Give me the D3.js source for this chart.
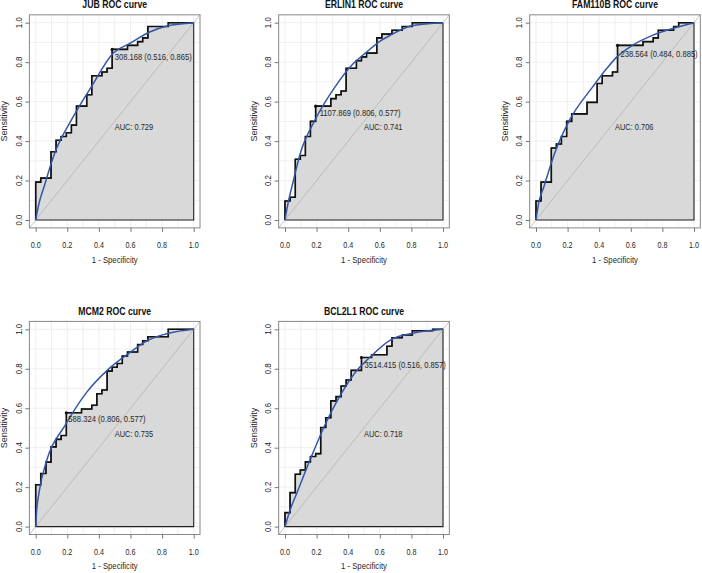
<!DOCTYPE html>
<html>
<head>
<meta charset="utf-8">
<script src="https://cdn.jsdelivr.net/npm/d3@7"></script>
<style>
  html, body { margin: 0; padding: 0; background: #fff; }
  svg { display: block; }
  text { font-family: "Liberation Sans", Arial, sans-serif; }
</style>
</head>
<body>
<svg id="chart" width="702" height="573"></svg>
<script>
// ---------------- DATA ----------------
const markers = ["JUB", "ERLIN1", "FAM110B", "MCM2", "BCL2L1"];
const aucValues = [0.729, 0.741, 0.706, 0.735, 0.718];
const thresholdLabels = ["308.168", "1107.869", "238.564", "588.324", "3514.415"];
const thresholdSpec = [0.516, 0.806, 0.484, 0.806, 0.516];
const thresholdSens = [0.865, 0.577, 0.885, 0.577, 0.857];

const xTicks = [0, 0.2, 0.4, 0.6, 0.8, 1.0];
const xTickLabels = ["0.0", "0.2", "0.4", "0.6", "0.8", "1.0"];
const yTicks = [0, 0.2, 0.4, 0.6, 0.8, 1.0];
const yTickLabels = ["0.0", "0.2", "0.4", "0.6", "0.8", "1.0"];
const gridValues = [0, 0.1, 0.2, 0.3, 0.4, 0.5, 0.6, 0.7, 0.8, 0.9, 1.0];

// empirical ROC points (1 - specificity, sensitivity)
const jubFpr = [0,0,0.032,0.097,0.129,0.161,0.194,0.226,0.258,0.323,0.355,0.419,0.452,0.484,0.581,0.645,0.677,0.710,0.839,1];
const jubTpr = [0,0.192,0.212,0.346,0.404,0.423,0.442,0.481,0.577,0.635,0.731,0.750,0.769,0.865,0.885,0.904,0.923,0.981,1.0,1];
const erlin1Fpr = [0,0,0.032,0.065,0.097,0.129,0.161,0.194,0.290,0.323,0.355,0.387,0.452,0.484,0.516,0.581,0.613,0.677,0.742,0.806,1];
const erlin1Tpr = [0,0.096,0.115,0.308,0.327,0.423,0.500,0.577,0.615,0.635,0.654,0.769,0.808,0.827,0.846,0.923,0.942,0.962,0.981,1.0,1];
const fam110bFpr = [0,0,0.032,0.097,0.129,0.161,0.194,0.226,0.323,0.387,0.419,0.484,0.516,0.677,0.742,0.774,0.871,0.903,1];
const fam110bTpr = [0,0.096,0.192,0.365,0.385,0.423,0.500,0.538,0.596,0.692,0.731,0.750,0.885,0.904,0.923,0.962,0.981,1.0,1];
const mcm2Fpr = [0,0,0.032,0.065,0.097,0.129,0.161,0.194,0.290,0.355,0.387,0.419,0.452,0.484,0.516,0.548,0.581,0.645,0.677,0.710,0.839,1];
const mcm2Tpr = [0,0.212,0.269,0.327,0.404,0.442,0.462,0.577,0.596,0.615,0.673,0.692,0.788,0.808,0.827,0.865,0.885,0.923,0.942,0.962,1.0,1];
const bcl2l1Fpr = [0,0,0.032,0.065,0.097,0.129,0.161,0.194,0.226,0.258,0.290,0.323,0.355,0.387,0.419,0.484,0.548,0.645,0.677,0.742,0.806,0.935,1];
const bcl2l1Tpr = [0,0.071,0.172,0.265,0.287,0.328,0.355,0.370,0.502,0.552,0.637,0.659,0.713,0.743,0.792,0.857,0.871,0.914,0.957,0.971,0.993,1.0,1];

// smoothed ROC curves
const jubSmoothFpr = [0,0.021,0.053,0.12,0.226,0.353,0.49,0.596,0.725,0.831,1];
const jubSmoothTpr = [0,0.084,0.169,0.338,0.507,0.676,0.845,0.895,0.954,0.983,1];
const erlin1SmoothFpr = [0,0.019,0.044,0.097,0.19,0.318,0.434,0.507,0.61,0.663,0.81,1];
const erlin1SmoothTpr = [0,0.084,0.169,0.338,0.507,0.676,0.794,0.845,0.91,0.935,0.986,1];
const fam110bSmoothFpr = [0,0.017,0.05,0.118,0.213,0.36,0.45,0.514,0.61,0.741,0.867,1];
const fam110bSmoothTpr = [0,0.085,0.169,0.338,0.507,0.676,0.77,0.828,0.885,0.937,0.971,1];
const mcm2SmoothFpr = [0,0.005,0.021,0.072,0.184,0.321,0.459,0.596,0.715,0.841,1];
const mcm2SmoothTpr = [0,0.07,0.172,0.341,0.51,0.679,0.797,0.882,0.946,0.98,1];
const bcl2l1SmoothFpr = [0,0.034,0.076,0.16,0.25,0.36,0.461,0.524,0.674,0.81,1];
const bcl2l1SmoothTpr = [0,0.088,0.172,0.341,0.51,0.679,0.797,0.848,0.949,0.98,1];

const empFpr = [jubFpr, erlin1Fpr, fam110bFpr, mcm2Fpr, bcl2l1Fpr];
const empTpr = [jubTpr, erlin1Tpr, fam110bTpr, mcm2Tpr, bcl2l1Tpr];
const smFpr = [jubSmoothFpr, erlin1SmoothFpr, fam110bSmoothFpr, mcm2SmoothFpr, bcl2l1SmoothFpr];
const smTpr = [jubSmoothTpr, erlin1SmoothTpr, fam110bSmoothTpr, mcm2SmoothTpr, bcl2l1SmoothTpr];

// ---------------- LAYOUT ----------------
const colX = [35.7, 285, 536];
const rowY = [22.7, 329.3];
const PW = 158, PH = 197.3;
const thrOffset = [[2.5, 7], [4, 7], [3, 8], [2, 6], [3, 7.5]];

const svg = d3.select("#chart");

function txt(g, x, y, s, o) {
  o = o || {};
  return g.append("text")
    .attr("transform", `translate(${x},${y}) rotate(${o.rot || 0}) scale(${o.sx || 1},1)`)
    .attr("text-anchor", o.anchor || "start")
    .attr("font-size", o.size || 9)
    .attr("font-weight", o.weight || "normal")
    .attr("fill", o.fill || "#262626")
    .text(s);
}

markers.forEach((name, i) => {
  const cx = colX[i % 3], ry = rowY[Math.floor(i / 3)];
  const x = d3.scaleLinear().domain([0, 1]).range([cx, cx + PW]);
  const y = d3.scaleLinear().domain([0, 1]).range([ry + PH, ry]);
  const g = svg.append("g");
  const lo = -0.04, hi = 1.04;

  // grid
  gridValues.forEach(v => {
    g.append("line").attr("x1", x(v)).attr("x2", x(v)).attr("y1", y(lo)).attr("y2", y(hi))
      .attr("stroke", "#ebebeb").attr("stroke-width", 0.8);
    g.append("line").attr("y1", y(v)).attr("y2", y(v)).attr("x1", x(lo)).attr("x2", x(hi))
      .attr("stroke", "#ebebeb").attr("stroke-width", 0.8);
  });

  const pts = empFpr[i].map((f, k) => [f, empTpr[i][k]]);
  const stepLine = d3.line().x(d => x(d[0])).y(d => y(d[1])).curve(d3.curveStepAfter);

  // AUC polygon
  g.append("path")
    .attr("d", stepLine(pts) + `L${x(1)},${y(0)}L${x(0)},${y(0)}Z`)
    .attr("fill", "#d9d9d9").attr("stroke", "#222").attr("stroke-width", 1.1);

  // identity line
  g.append("line").attr("x1", x(lo)).attr("y1", y(lo)).attr("x2", x(hi)).attr("y2", y(hi))
    .attr("stroke", "#b4b4b4").attr("stroke-width", 0.8);

  // frame
  g.append("rect").attr("x", x(lo)).attr("y", y(hi)).attr("width", x(hi) - x(lo)).attr("height", y(lo) - y(hi))
    .attr("fill", "none").attr("stroke", "#888").attr("stroke-width", 1);

  // empirical step curve
  g.append("path").attr("d", stepLine(pts)).attr("fill", "none")
    .attr("stroke", "#111").attr("stroke-width", 1.6);

  // smoothed curve
  const sm = smFpr[i].map((f, k) => [f, smTpr[i][k]]);
  g.append("path")
    .attr("d", d3.line().x(d => x(d[0])).y(d => y(d[1])).curve(d3.curveMonotoneX)(sm))
    .attr("fill", "none").attr("stroke", "#3456a6").attr("stroke-width", 1.5);

  // axes ticks
  const xa = g.append("g").attr("transform", `translate(0,${y(lo)})`)
    .call(d3.axisBottom(x).tickValues(xTicks).tickSize(4).tickFormat(""));
  const ya = g.append("g").attr("transform", `translate(${x(lo)},0)`)
    .call(d3.axisLeft(y).tickValues(yTicks).tickSize(4).tickFormat(""));
  [xa, ya].forEach(a => {
    a.select(".domain").remove();
    a.selectAll("line").attr("stroke", "#777");
  });

  xTicks.forEach((v, k) => txt(g, x(v), ry + 225.3, xTickLabels[k], { anchor: "middle", size: 9.6, sx: 0.75 }));
  yTicks.forEach((v, k) => txt(g, cx - 14, y(v), yTickLabels[k], { anchor: "middle", rot: -90, size: 9.6, sx: 0.82 }));

  txt(g, x(0.5), ry - 14.5, name + " ROC curve", { anchor: "middle", size: 10, weight: "bold", sx: 0.87, fill: "#111" });
  txt(g, x(0.5), ry + 239.8, "1 - Specificity", { anchor: "middle", size: 9.2, sx: 0.84 });
  txt(g, cx - 28.5, y(0.5), "Sensitivity", { anchor: "middle", rot: -90, size: 9.5, sx: 0.95 });

  // threshold point + label
  const px = x(1 - thresholdSpec[i]), py = y(thresholdSens[i]);
  g.append("circle").attr("cx", px).attr("cy", py).attr("r", 1.6).attr("fill", "#111");
  txt(g, px + thrOffset[i][0], py + thrOffset[i][1] + 3.3,
    `${thresholdLabels[i]} (${thresholdSpec[i].toFixed(3)}, ${thresholdSens[i].toFixed(3)})`,
    { size: 9.3, sx: 0.82 });

  // AUC label
  txt(g, x(0.5), y(0.473) + 3.3, "AUC: " + aucValues[i].toFixed(3), { size: 9.3, sx: 0.8 });
});
</script>
</body>
</html>
